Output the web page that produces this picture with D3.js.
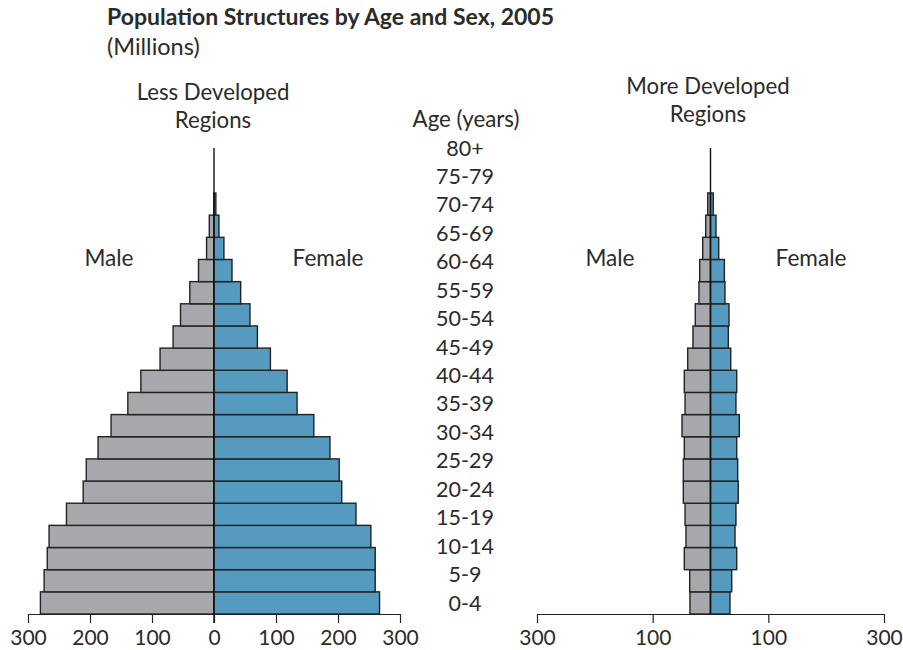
<!DOCTYPE html>
<html>
<head>
<meta charset="utf-8">
<script src="https://cdn.jsdelivr.net/npm/d3@7"></script>
<style>
  body { margin: 0; background: #fff; }
  svg text { font-family: Lato, "Open Sans", sans-serif; fill: #2b2b2b; }
</style>
</head>
<body>
<svg id="chart" width="903" height="650"></svg>
<script>
// bar groups, bottom to top (millions)
const groups = ["0-4","5-9","10-14","15-19","20-24","25-29","30-34","35-39","40-44",
    "45-49","50-54","55-59","60-64","65-69","70-74","75-79","80-84","85-89","90+"];

const lessMale   = [280, 274, 269, 266, 238, 211, 206, 187, 166, 139, 118, 87, 66, 54, 39, 25, 12, 7.6, 0.5];
const lessFemale = [267, 260, 260, 253, 229, 206, 202, 187, 161, 134, 118, 91, 70, 58, 43, 29, 16, 8, 3];

const moreMale   = [35.5, 36, 45.3, 42.4, 44, 47, 47, 45.3, 49.3, 44, 45.3, 39.4, 30.3, 26.3, 20, 18.7, 13.5, 8.3, 4.8];
const moreFemale = [33.7, 36.7, 45.3, 42.4, 44, 48, 47, 45.3, 49.8, 44, 45.3, 35, 30.8, 32, 25, 24, 14.2, 9.5, 4.8];

// labels printed in the middle column, bottom to top
const ageLabels = ["0-4","5-9","10-14","15-19","20-24","25-29","30-34","35-39","40-44",
    "45-49","50-54","55-59","60-64","65-69","70-74","75-79","80+"];

const lessTicks = [-300, -200, -100, 0, 100, 200, 300];
const moreTicks = [-300, -100, 100, 300];

const svg = d3.select("#chart");

const y = d3.scaleBand()
    .domain(groups)
    .range([614, 193])
    .paddingInner(0);

const labelY = d3.scalePoint()
    .domain(ageLabels)
    .range([603, 148]);

const xLess = d3.scaleLinear().domain([-300, 300]).range([28, 400]);
const xMore = d3.scaleLinear().domain([-300, 300]).range([537, 884]);

function pyramid(x, male, female, ticks, showZeroTick) {
    const g = svg.append("g");
    const rows = groups.map((k, i) => ({ k, m: male[i], f: female[i] }));

    g.selectAll(".male")
        .data(rows)
        .enter()
        .append("rect")
        .attr("class", "male")
        .attr("x", d => x(-d.m))
        .attr("y", d => y(d.k))
        .attr("width", d => x(0) - x(-d.m))
        .attr("height", y.bandwidth())
        .attr("fill", "#a7a8ab")
        .attr("stroke", "#222")
        .attr("stroke-width", 1.4);

    g.selectAll(".female")
        .data(rows)
        .enter()
        .append("rect")
        .attr("class", "female")
        .attr("x", x(0))
        .attr("y", d => y(d.k))
        .attr("width", d => x(d.f) - x(0))
        .attr("height", y.bandwidth())
        .attr("fill", "#559abf")
        .attr("stroke", "#222")
        .attr("stroke-width", 1.4);

    const axis = d3.axisBottom(x)
        .tickValues(ticks)
        .tickFormat(d => Math.abs(d))
        .tickSize(9)
        .tickSizeOuter(0)
        .tickPadding(7);

    const ax = g.append("g")
        .attr("transform", "translate(0,614)")
        .call(axis);
    ax.select(".domain").attr("stroke", "#222").attr("stroke-width", 1.2);
    ax.selectAll(".tick line").attr("stroke", "#222").attr("stroke-width", 1.2);
    ax.selectAll(".tick text")
        .attr("font-size", 21)
        .attr("font-family", "Lato, 'Open Sans', sans-serif")
        .attr("fill", "#2b2b2b");

    // centre line
    g.append("line")
        .attr("x1", x(0)).attr("x2", x(0))
        .attr("y1", 148).attr("y2", showZeroTick ? 623 : 614)
        .attr("stroke", "#111")
        .attr("stroke-width", 1.4);
}

pyramid(xLess, lessMale, lessFemale, lessTicks, true);
pyramid(xMore, moreMale, moreFemale, moreTicks, false);

// age column
svg.append("text")
    .attr("x", 466).attr("y", 127)
    .attr("text-anchor", "middle")
    .attr("font-size", 22.3)
    .text("Age (years)");

svg.selectAll(".age")
    .data(ageLabels)
    .enter()
    .append("text")
    .attr("class", "age")
    .attr("x", 465)
    .attr("y", d => labelY(d))
    .attr("dy", "0.35em")
    .attr("text-anchor", "middle")
    .attr("font-size", 21.5)
    .text(d => d);

// titles
svg.append("text")
    .attr("x", 107).attr("y", 25)
    .attr("font-size", 23)
    .attr("font-weight", "bold")
    .text("Population Structures by Age and Sex, 2005");

svg.append("text")
    .attr("x", 107).attr("y", 55)
    .attr("font-size", 23.5)
    .text("(Millions)");

function block(cx, y0, lines) {
    lines.forEach((t, i) => {
        svg.append("text")
            .attr("x", cx).attr("y", y0 + i * 28)
            .attr("text-anchor", "middle")
            .attr("font-size", 22.2)
            .text(t);
    });
}
block(213, 100, ["Less Developed", "Regions"]);
block(708, 94, ["More Developed", "Regions"]);

[[109, "Male"], [328, "Female"], [610, "Male"], [811, "Female"]].forEach(([cx, t]) => {
    svg.append("text")
        .attr("x", cx).attr("y", 266)
        .attr("text-anchor", "middle")
        .attr("font-size", 22.6)
        .text(t);
});
</script>
</body>
</html>
